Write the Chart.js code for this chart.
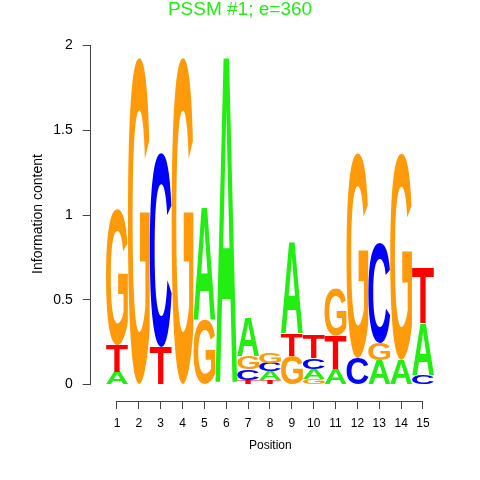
<!DOCTYPE html>
<html>
<head>
<meta charset="utf-8">
<script src="https://cdn.jsdelivr.net/npm/chart.js@4.4.1/dist/chart.umd.min.js"></script>
<style>
  html, body { margin: 0; padding: 0; background: #fff; }
  #logo { display: block; }
</style>
</head>
<body>
<canvas id="logo" width="480" height="480"></canvas>
<script>
// information content per letter at each motif position
const positions = [1, 2, 3, 4, 5, 6, 7, 8, 9, 10, 11, 12, 13, 14, 15];
const heightA = [0.075, 0, 0, 0, 0.66, 1.93, 0.23, 0.049, 0.54, 0.059, 0.091, 0, 0.145, 0.145, 0.307];
const heightC = [0, 0, 1.146, 0, 0, 0, 0.064, 0.053, 0, 0.065, 0, 0.156, 0.59, 0, 0.056];
const heightG = [0.80, 1.93, 0, 1.93, 0.38, 0, 0.077, 0.059, 0.17, 0.032, 0.278, 1.21, 0.10, 1.22, 0];
const heightT = [0.158, 0, 0.221, 0, 0, 0, 0.027, 0.027, 0.132, 0.136, 0.20, 0, 0, 0, 0.33];
// letters from bottom to top, as stacked in the picture
const stackOrder = ['ATG', 'G', 'TC', 'G', 'GA', 'A', 'TCGA', 'TACG', 'GTA', 'GACT', 'ATG', 'CG', 'AGC', 'AG', 'CAT'];
const yTicks = [0, 0.5, 1, 1.5, 2];

const letterColors = { A: '#22ee11', C: '#0000ff', G: '#ff9a0a', T: '#ff0000' };
const heights = { A: heightA, C: heightC, G: heightG, T: heightT };
const LETTER_FONT = 'bold 200px "Liberation Sans", Arial, sans-serif';
const TEXT_FONT = '"Liberation Sans", Arial, sans-serif';
const AXIS_COLOR = '#444';

// one dataset per stacking level
const datasets = [0, 1, 2, 3].map(level => ({
    label: 'level ' + level,
    data: positions.map((p, i) => {
        const l = stackOrder[i][level];
        return { x: p, y: l ? heights[l][i] : 0, letter: l || '' };
    }),
    backgroundColor: 'rgba(0,0,0,0)',
    borderWidth: 0,
    barPercentage: 1,
    categoryPercentage: 1,
    stack: 'logo'
}));

const glyphCache = {};
function glyphBox(ctx, letter) {
    if (!glyphCache[letter]) {
        ctx.save();
        ctx.font = LETTER_FONT;
        const m = ctx.measureText(letter);
        ctx.restore();
        glyphCache[letter] = {
            left: m.actualBoundingBoxLeft,
            asc: m.actualBoundingBoxAscent,
            w: m.actualBoundingBoxLeft + m.actualBoundingBoxRight,
            h: m.actualBoundingBoxAscent + m.actualBoundingBoxDescent
        };
    }
    return glyphCache[letter];
}

// stretch each letter glyph into its bar rectangle
const letterPlugin = {
    id: 'letters',
    afterDatasetsDraw(chart) {
        const ctx = chart.ctx;
        chart.data.datasets.forEach((ds, di) => {
            chart.getDatasetMeta(di).data.forEach((bar, i) => {
                const pt = ds.data[i];
                if (!pt.y || !pt.letter) return;
                const { x, y, base, width } = bar.getProps(['x', 'y', 'base', 'width'], true);
                const h = Math.abs(base - y);
                if (h < 0.5) return;
                const g = glyphBox(ctx, pt.letter);
                ctx.save();
                ctx.translate(x - width / 2, Math.min(y, base));
                ctx.scale(width / g.w, h / g.h);
                ctx.font = LETTER_FONT;
                ctx.textAlign = 'left';
                ctx.textBaseline = 'alphabetic';
                ctx.fillStyle = letterColors[pt.letter];
                ctx.fillText(pt.letter, g.left, g.asc);
                ctx.restore();
            });
        });
    }
};

function align(p) {
    return Math.round(p - 0.5) + 0.5;
}

// R style axis lines, only between the first and last tick
const axisLinePlugin = {
    id: 'axisLines',
    afterDraw(chart) {
        const { ctx, chartArea } = chart;
        const xs = chart.scales.x, ys = chart.scales.y;
        ctx.save();
        ctx.strokeStyle = AXIS_COLOR;
        ctx.lineWidth = 1;
        ctx.beginPath();
        const lx = align(chartArea.left);
        ctx.moveTo(lx, align(ys.getPixelForValue(yTicks[0])));
        ctx.lineTo(lx, align(ys.getPixelForValue(yTicks[yTicks.length - 1])));
        const by = align(chartArea.bottom);
        ctx.moveTo(align(xs.getPixelForValue(positions[0])), by);
        ctx.lineTo(align(xs.getPixelForValue(positions[positions.length - 1])), by);
        ctx.stroke();
        ctx.restore();
    }
};

new Chart(document.getElementById('logo'), {
    type: 'bar',
    data: { datasets: datasets },
    plugins: [letterPlugin, axisLinePlugin],
    options: {
        responsive: false,
        animation: false,
        events: [],
        layout: { padding: 0 },
        plugins: {
            legend: { display: false },
            tooltip: { enabled: false },
            title: {
                display: true,
                text: 'PSSM #1; e=360',
                color: '#22ee11',
                font: { family: TEXT_FONT, size: 19, weight: 'normal', lineHeight: 1 },
                padding: { top: 0, bottom: 8 }
            }
        },
        scales: {
            x: {
                type: 'linear',
                offset: false,
                min: -0.203,
                max: 16.236,
                afterFit(scale) { scale.height = 79; },
                afterBuildTicks(scale) {
                    scale.ticks = positions.map(p => ({ value: p }));
                },
                grid: { offset: false, drawOnChartArea: false, drawTicks: true, tickLength: 8, color: AXIS_COLOR },
                border: { display: false },
                ticks: {
                    autoSkip: false,
                    maxRotation: 0,
                    padding: 7,
                    color: '#000',
                    font: { family: TEXT_FONT, size: 12 },
                    callback: v => String(v)
                },
                title: {
                    display: true,
                    text: 'Position',
                    color: '#000',
                    font: { family: TEXT_FONT, size: 12 },
                    padding: { top: 0, bottom: 27 }
                }
            },
            y: {
                type: 'linear',
                stacked: true,
                min: -0.0974,
                max: 2.11,
                afterFit(scale) { scale.width = 90.7; },
                afterBuildTicks(scale) {
                    scale.ticks = yTicks.map(v => ({ value: v }));
                },
                grid: { drawOnChartArea: false, drawTicks: true, tickLength: 8, color: AXIS_COLOR },
                border: { display: false },
                ticks: {
                    padding: 10,
                    color: '#000',
                    font: { family: TEXT_FONT, size: 14 },
                    callback: v => String(v)
                },
                title: {
                    display: true,
                    text: 'Information content',
                    color: '#000',
                    font: { family: TEXT_FONT, size: 14 },
                    padding: { top: 29.6, bottom: 0 }
                }
            },
            // empty right margin of the R plot region
            margin: {
                type: 'linear',
                position: 'right',
                display: true,
                afterFit(scale) { scale.width = 30; },
                grid: { display: false },
                border: { display: false },
                ticks: { display: false }
            }
        }
    }
});
</script>
</body>
</html>
